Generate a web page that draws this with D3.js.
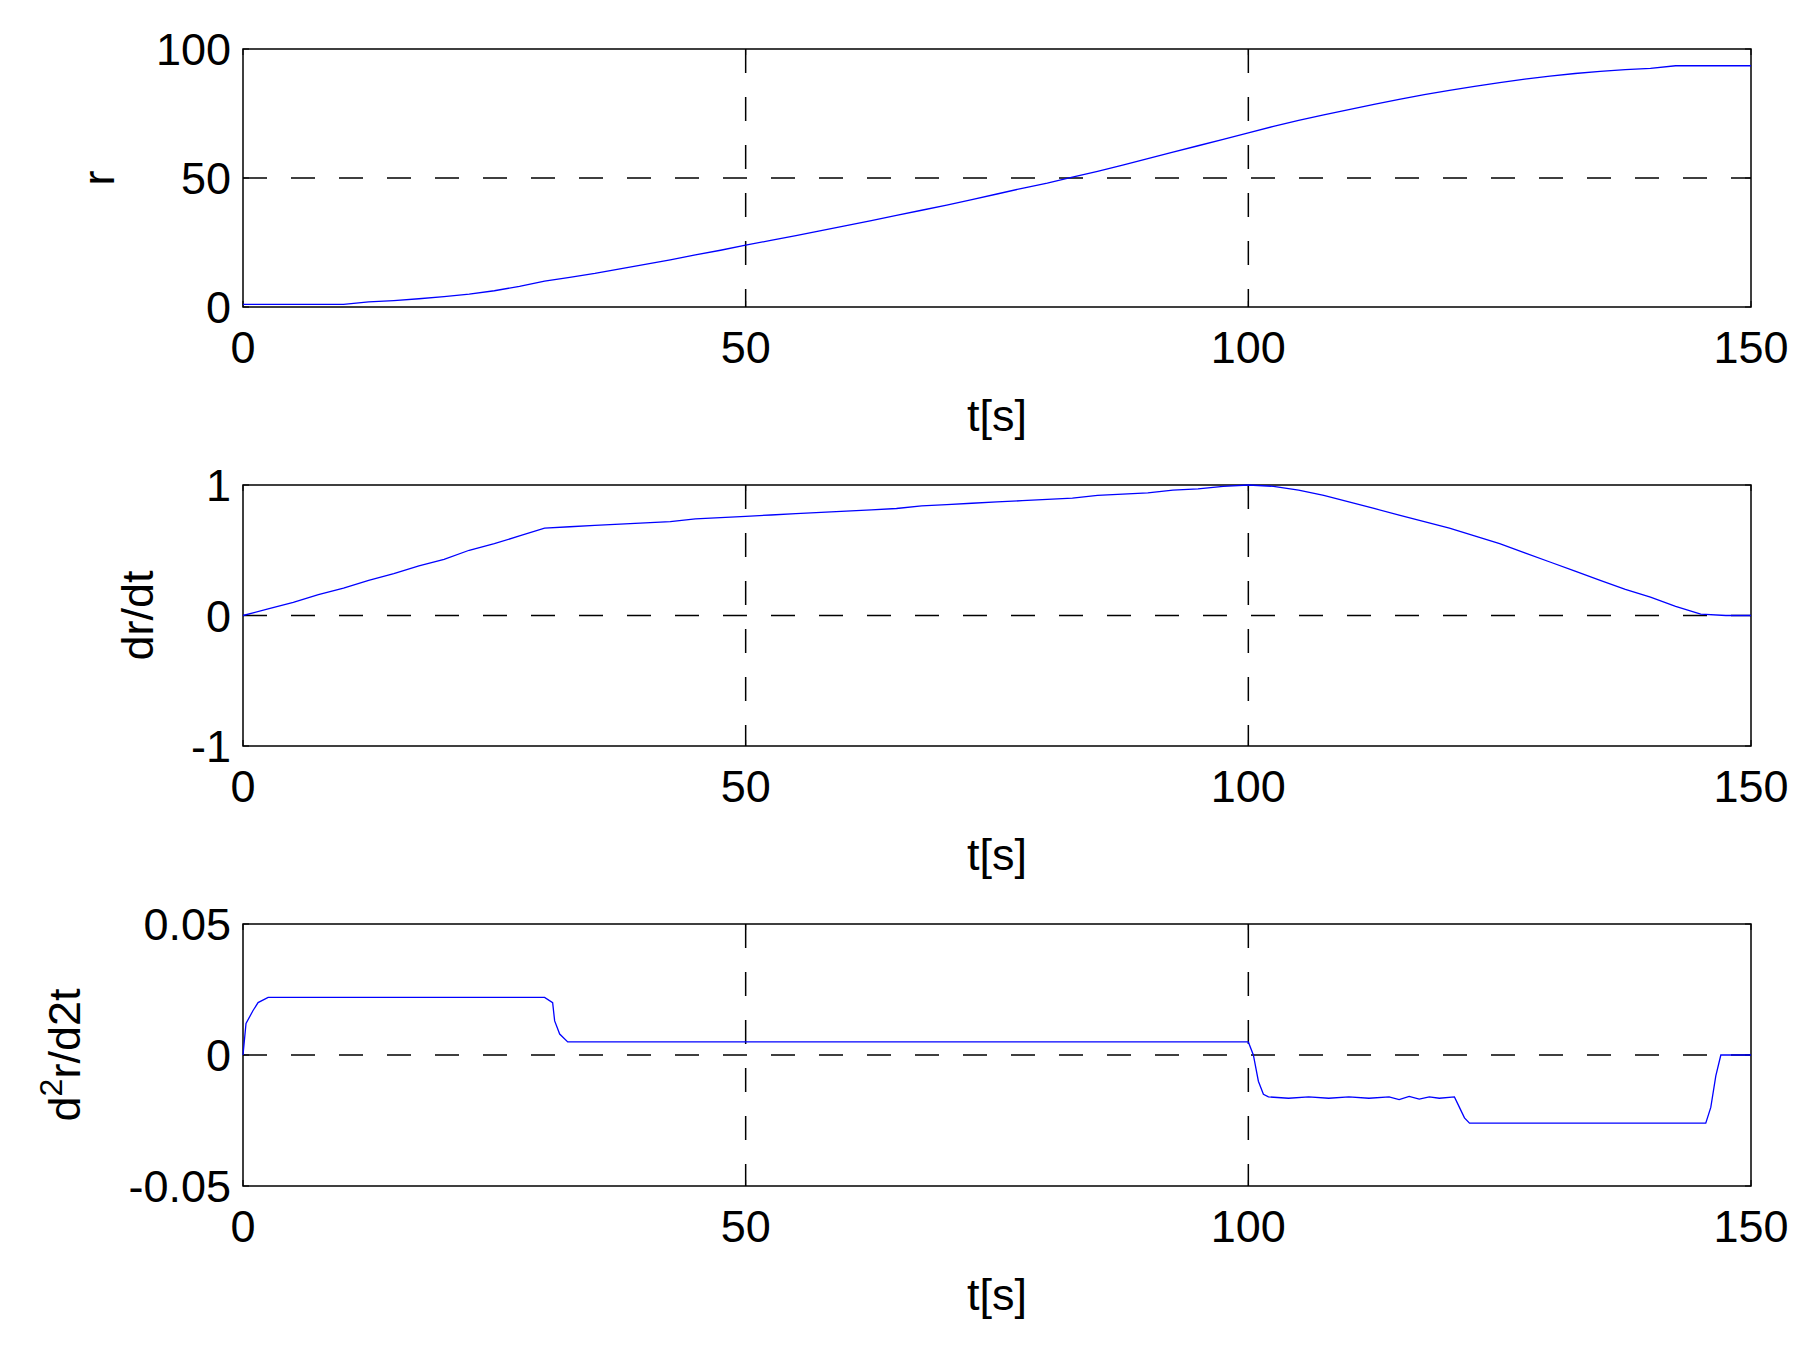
<!DOCTYPE html>
<html><head><meta charset="utf-8">
<script src="https://cdn.jsdelivr.net/npm/d3@7"></script>
<style>body{margin:0;background:#fff}text{font-family:"Liberation Sans",Arial,sans-serif;fill:#000}</style>
</head><body><svg id="c" width="1815" height="1350"></svg>
<script>
const tR = d3.range(0, 150.01, 2.5);
const rVals = [1,1,1,1,1,2,2.5,3.2,4,5,6.3,8,10,11.5,13,14.8,16.5,18.3,20.2,22,24,25.8,27.7,29.6,31.5,33.5,35.5,37.5,39.5,41.6,43.8,46,48,50.3,52.6,55,57.5,60,62.5,65,67.5,70,72.3,74.5,76.5,78.5,80.5,82.3,84,85.5,87,88.3,89.5,90.5,91.3,92,92.5,93.5,93.5,93.5,93.5];
const drVals = [0,0.05,0.1,0.16,0.21,0.27,0.32,0.38,0.43,0.5,0.55,0.61,0.67,0.68,0.69,0.7,0.71,0.72,0.74,0.75,0.76,0.77,0.78,0.79,0.8,0.81,0.82,0.84,0.85,0.86,0.87,0.88,0.89,0.9,0.92,0.93,0.94,0.96,0.97,0.99,1,0.99,0.96,0.92,0.87,0.82,0.77,0.72,0.67,0.61,0.55,0.48,0.41,0.34,0.27,0.2,0.14,0.07,0.01,0,0];
const d2T = [0,0.3,1,1.5,2.5,30,30.8,31,31.5,32.3,100,100.5,101,101.5,102,104,106,108,110,112,114,115,116,117,118,119,120.5,121,121.5,122,145.5,146,146.5,147,150];
const d2Vals = [0,0.012,0.017,0.02,0.022,0.022,0.02,0.013,0.008,0.005,0.005,0,-0.01,-0.015,-0.016,-0.0165,-0.016,-0.0165,-0.016,-0.0165,-0.016,-0.017,-0.0158,-0.0168,-0.016,-0.0165,-0.016,-0.02,-0.024,-0.026,-0.026,-0.02,-0.008,0,0];
const xTicks = [0,50,100,150];
const panels = [
 {top:49,bot:307,dom:[0,100],ticks:[0,50,100],fmt:d=>String(d),t:tR,v:rVals,curve:d3.curveLinear,ylab:"r",ylx:114},
 {top:485,bot:746,dom:[-1,1],ticks:[-1,0,1],fmt:d=>String(d),t:tR,v:drVals,curve:d3.curveLinear,ylab:"dr/dt",ylx:153},
 {top:924,bot:1186,dom:[-0.05,0.05],ticks:[-0.05,0,0.05],fmt:d=>d===0?"0":(d<0?"-":"")+d3.format(".2f")(Math.abs(d)),t:d2T,v:d2Vals,curve:d3.curveLinear,ylab:"d2",ylx:80}
];
const svg = d3.select("#c");
const L=243,R=1751,FS=45;
const x = d3.scaleLinear().domain([0,150]).range([L,R]);
panels.forEach(p=>{
  const y = d3.scaleLinear().domain(p.dom).range([p.bot,p.top]);
  const g = svg.append("g");
  g.append("rect").attr("x",L).attr("y",p.top).attr("width",R-L).attr("height",p.bot-p.top).attr("fill","none").attr("stroke","#000").attr("stroke-width",1.5);
  xTicks.slice(1,-1).forEach(t=>g.append("line").attr("x1",x(t)).attr("x2",x(t)).attr("y1",p.top).attr("y2",p.bot).attr("stroke","#000").attr("stroke-width",1.5).attr("stroke-dasharray","24,24"));
  p.ticks.slice(1,-1).forEach(t=>g.append("line").attr("x1",L).attr("x2",R).attr("y1",y(t)).attr("y2",y(t)).attr("stroke","#000").attr("stroke-width",1.5).attr("stroke-dasharray","24,24"));
  xTicks.forEach(t=>{g.append("line").attr("x1",x(t)).attr("x2",x(t)).attr("y1",p.bot).attr("y2",p.bot-6).attr("stroke","#000");
    g.append("line").attr("x1",x(t)).attr("x2",x(t)).attr("y1",p.top).attr("y2",p.top+6).attr("stroke","#000");
    g.append("text").attr("x",x(t)).attr("y",p.bot+56).attr("text-anchor","middle").attr("font-size",FS).text(t);});
  p.ticks.forEach(t=>{g.append("line").attr("x1",L).attr("x2",L+6).attr("y1",y(t)).attr("y2",y(t)).attr("stroke","#000");
    g.append("line").attr("x1",R).attr("x2",R-6).attr("y1",y(t)).attr("y2",y(t)).attr("stroke","#000");
    g.append("text").attr("x",L-12).attr("y",y(t)+16).attr("text-anchor","end").attr("font-size",FS).text(p.fmt(t));});
  const line = d3.line().x((d,i)=>x(p.t[i])).y(d=>y(d)).curve(p.curve);
  g.append("path").attr("d",line(p.v)).attr("fill","none").attr("stroke","#0000ff").attr("stroke-width",1.3);
  g.append("text").attr("x",(L+R)/2).attr("y",p.bot+124).attr("text-anchor","middle").attr("font-size",FS).text("t[s]");
  const yl = g.append("text").attr("transform",`translate(${p.ylx},${(p.top+p.bot)/2}) rotate(-90)`).attr("text-anchor","middle").attr("font-size",FS);
  if(p.ylab==="d2"){yl.append("tspan").text("d");yl.append("tspan").attr("dy",-18).attr("font-size",32).text("2");yl.append("tspan").attr("dy",18).text("r/d2t");}
  else yl.text(p.ylab);
});
</script></body></html>
